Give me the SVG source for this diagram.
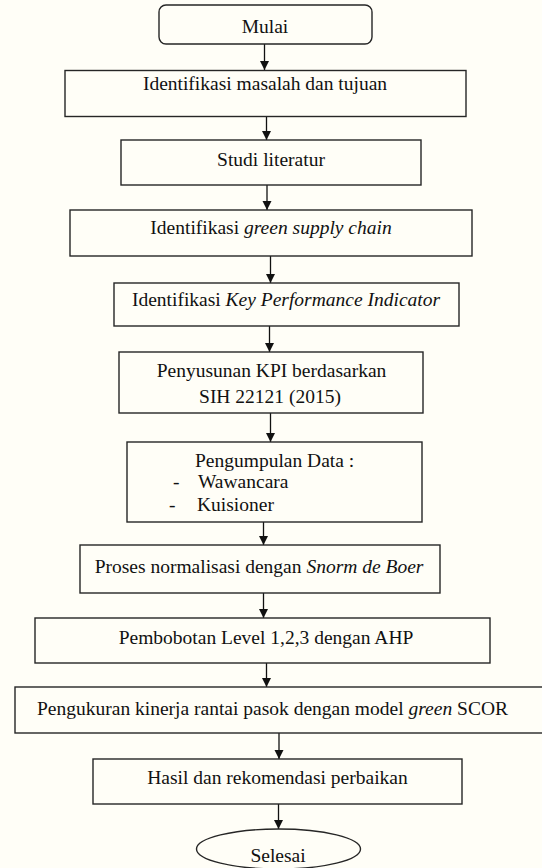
<svg xmlns="http://www.w3.org/2000/svg" width="542" height="868" viewBox="0 0 542 868">
<defs>
<marker id="ah" markerUnits="userSpaceOnUse" markerWidth="10" markerHeight="10" refX="9" refY="4.5" orient="auto">
<path d="M0,0 L9,4.5 L0,9 Z" fill="#111"/>
</marker>
<style>
.bx{fill:none;stroke:#262626;stroke-width:1.4}
.t{font-family:"Liberation Serif","Times New Roman",serif;font-size:19.5px;fill:#111;text-anchor:middle}
.s{text-anchor:start}
.i{font-style:italic}
.c{stroke:#111;stroke-width:1.3;fill:none;marker-end:url(#ah)}
</style>
</defs>
<rect x="0" y="0" width="542" height="868" fill="#fffef7"/>
<g id="connectors">
<line class="c" x1="264.5" y1="44" x2="264.5" y2="70"/>
<line class="c" x1="266.5" y1="117" x2="266.5" y2="140"/>
<line class="c" x1="267" y1="185" x2="267" y2="210"/>
<line class="c" x1="270.5" y1="256" x2="270.5" y2="283"/>
<line class="c" x1="269.5" y1="326" x2="269.5" y2="352"/>
<line class="c" x1="270.5" y1="413" x2="270.5" y2="442"/>
<line class="c" x1="263.5" y1="522" x2="263.5" y2="545"/>
<line class="c" x1="263.5" y1="593" x2="263.5" y2="618"/>
<line class="c" x1="266.5" y1="663" x2="266.5" y2="687"/>
<line class="c" x1="279" y1="733" x2="279" y2="759"/>
<line class="c" x1="278.5" y1="804" x2="278.5" y2="829"/>
</g>
<g id="n1">
<rect class="bx" x="159" y="5" width="213" height="39" rx="7"/>
<text class="t" x="265" y="33">Mulai</text>
</g>
<g id="n2">
<rect class="bx" x="65" y="70.5" width="401" height="46"/>
<text class="t" x="265" y="90">Identifikasi masalah dan tujuan</text>
</g>
<g id="n3">
<rect class="bx" x="121" y="140" width="300" height="45"/>
<text class="t" x="271" y="165.5">Studi literatur</text>
</g>
<g id="n4">
<rect class="bx" x="70" y="210" width="402" height="46"/>
<text class="t" x="271" y="234">Identifikasi <tspan class="i">green supply chain</tspan></text>
</g>
<g id="n5">
<rect class="bx" x="114" y="283" width="345" height="43"/>
<text class="t" x="286" y="306">Identifikasi <tspan class="i">Key Performance Indicator</tspan></text>
</g>
<g id="n6">
<rect class="bx" x="119" y="352" width="304" height="61"/>
<text class="t" x="271.5" y="376.5">Penyusunan KPI berdasarkan</text>
<text class="t" x="270" y="402.5">SIH 22121 (2015)</text>
</g>
<g id="n7">
<rect class="bx" x="127" y="442" width="295" height="80"/>
<text class="t s" x="195" y="466.5">Pengumpulan Data :</text>
<text class="t s" x="173" y="488">-</text>
<text class="t s" x="198" y="488">Wawancara</text>
<text class="t s" x="169" y="511">-</text>
<text class="t s" x="197" y="511">Kuisioner</text>
</g>
<g id="n8">
<rect class="bx" x="80" y="545" width="360" height="48"/>
<text class="t" x="259" y="573">Proses normalisasi dengan <tspan class="i">Snorm de Boer</tspan></text>
</g>
<g id="n9">
<rect class="bx" x="35" y="618" width="455" height="45"/>
<text class="t" x="266" y="644">Pembobotan Level 1,2,3 dengan AHP</text>
</g>
<g id="n10">
<rect class="bx" x="15" y="687" width="535" height="46"/>
<text class="t" x="272.5" y="715">Pengukuran kinerja rantai pasok dengan model <tspan class="i">green</tspan> SCOR</text>
</g>
<g id="n11">
<rect class="bx" x="93" y="759" width="369" height="45"/>
<text class="t" x="277.5" y="784">Hasil dan rekomendasi perbaikan</text>
</g>
<g id="n12">
<ellipse class="bx" cx="278.5" cy="849" rx="82" ry="20"/>
<text class="t" x="278" y="862">Selesai</text>
</g>
</svg>
